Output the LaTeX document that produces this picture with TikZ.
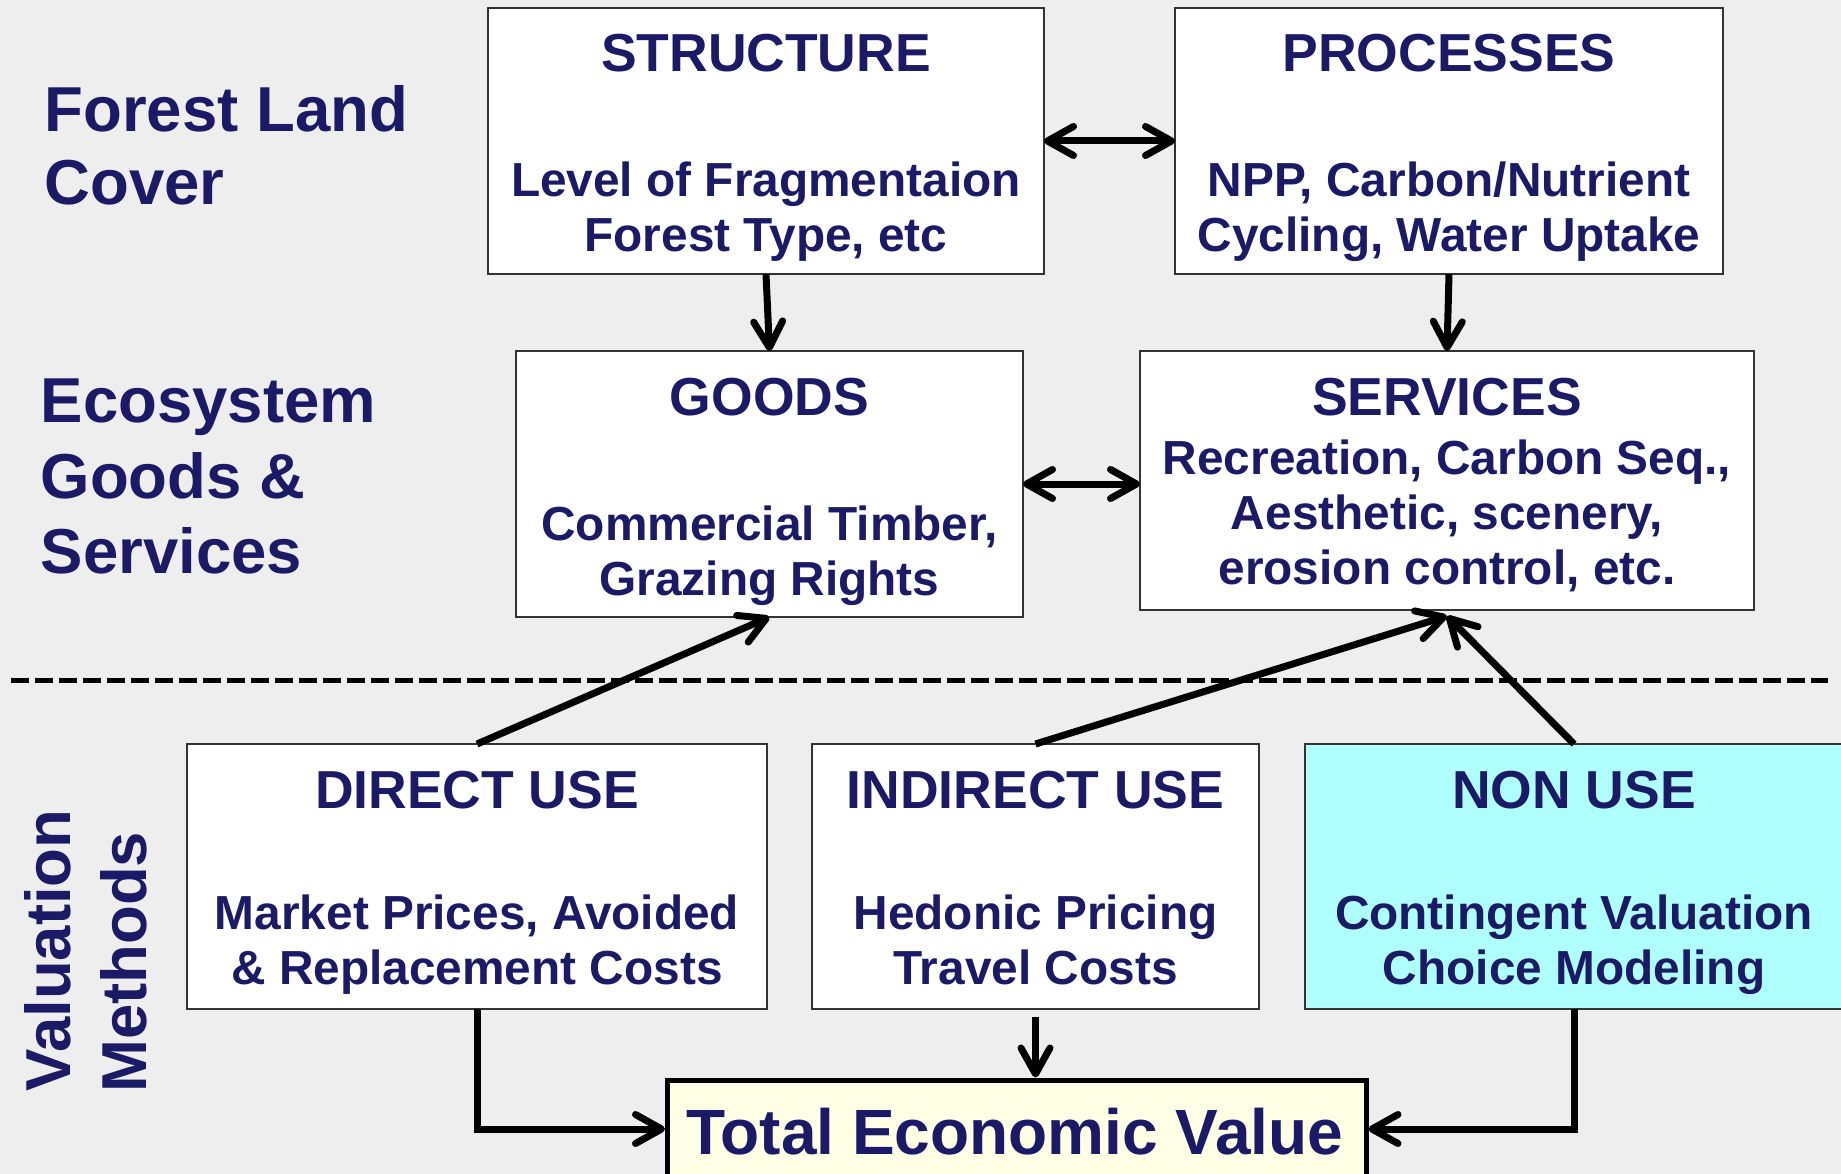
\documentclass[tikz,border=0pt]{standalone}
\usepackage{fontspec}
\setmainfont{Liberation Sans}
\usetikzlibrary{arrows.meta,calc}

\definecolor{navy}{RGB}{26,26,102}
\definecolor{bg}{RGB}{238,238,238}
\definecolor{edge}{RGB}{51,51,51}
\definecolor{cyanfill}{RGB}{175,255,255}
\definecolor{tevfill}{RGB}{255,255,230}

\newcommand{\boxtext}[4]{%
    \node[ttl] (#1T) at ([yshift=-64pt]#1.north) {#2};
    \foreach \s [count=\i] in {#4}
        \node[txt] (#1L\i) at ([yshift=-#3pt-(\i-1)*55pt]#1.north) {\s};
}

\begin{document}
\begin{tikzpicture}[x=1pt, y=-1pt,
        >={Straight Barb[length=26pt,width=29pt,round]},
        box/.style={draw=edge, line width=2pt, fill=white, inner sep=0pt, outer sep=0pt},
        ttl/.style={anchor=base, text=navy, inner sep=0pt,
            font=\bfseries\fontsize{53.5}{64}\selectfont},
        txt/.style={anchor=base, text=navy, inner sep=0pt,
            font=\bfseries\fontsize{47.8}{55}\selectfont},
        side/.style={anchor=base west, text=navy, inner sep=0pt,
            font=\bfseries\fontsize{63.5}{74}\selectfont},
        link/.style={line width=7pt},
        divider/.style={line width=5.7pt, dash pattern=on 18pt off 6pt}]

            \fill[bg] (0,0) rectangle (1841,1174);
            \useasboundingbox (0,0) rectangle (1841,1174);
            \clip (0,0) rectangle (1841,1174);

            \foreach \s [count=\i] in {Forest Land, Cover}
                \node[side] (forest\i) at (44.5,{131.3+(\i-1)*73.4}) {\s};
            \foreach \s [count=\i] in {Ecosystem, Goods \&, Services}
                \node[side] (eco\i) at (40.5,{422.9+(\i-1)*75.5}) {\s};
            \node[side, rotate=90] (valu) at (70,1092) {Valuation};
            \node[side, rotate=90] (meth) at (146,1093) {Methods};

            \draw[divider] (11,680.5) -- (1828,680.5);

            \node[box, minimum width=556pt, minimum height=266pt] (struct) at (766,141) {};
            \node[box, minimum width=548pt, minimum height=266pt] (proc) at (1449,141) {};
            \node[box, minimum width=507pt, minimum height=266pt] (goods) at (769.5,484) {};
            \node[box, minimum width=614pt, minimum height=259pt] (serv) at (1447,480.5) {};
            \node[box, minimum width=580pt, minimum height=265pt] (direct) at (477,876.5) {};
            \node[box, minimum width=447pt, minimum height=265pt] (indirect) at (1035.5,876.5) {};
            \node[box, fill=cyanfill, minimum width=538pt, minimum height=265pt] (nonuse) at (1574,876.5) {};
            \node[box, draw=black, line width=5pt, fill=tevfill,
                minimum width=698.5pt, minimum height=98pt] (tev) at (1016.75,1129) {};

            \boxtext{struct}{STRUCTURE}{188.3}{Level of Fragmentaion, {Forest Type, etc}}
            \boxtext{proc}{PROCESSES}{188.3}{{NPP, Carbon/Nutrient}, {Cycling, Water Uptake}}
            \boxtext{goods}{GOODS}{189}{{Commercial Timber,}, Grazing Rights}
            \boxtext{serv}{SERVICES}{123}{{Recreation, Carbon Seq.,}, {Aesthetic, scenery,}, {erosion control, etc.}}
            \boxtext{direct}{DIRECT USE}{185.5}{{Market Prices, Avoided}, \& Replacement Costs}
            \boxtext{indirect}{INDIRECT USE}{185.5}{Hedonic Pricing, Travel Costs}
            \boxtext{nonuse}{NON USE}{185.5}{Contingent Valuation, Choice Modeling}
            \node[anchor=base, text=navy, inner sep=0pt, font=\bfseries\fontsize{64}{74}\selectfont]
                (tevL) at ([xshift=-2pt,yshift=-74pt]tev.north) {Total Economic Value};

            \draw[link, <->] (struct.east) -- (proc.west);
            \draw[link, <->] (goods.east) -- (goods.east -| serv.west);
            \draw[link, ->] (struct.south) -- (goods.north);
            \draw[link, ->] (proc.south) -- (serv.north);
            \draw[link, ->] (direct.north) -- (goods.south);
            \draw[link, ->] (indirect.north) -- ([yshift=-6pt]serv.south);
            \draw[link, ->] (nonuse.north) -- ([yshift=-6pt]serv.south);
            \draw[link, ->, shorten >=2.5pt] ([yshift=-8pt]indirect.south) -- (indirect.south |- tev.north);
            \draw[link, ->, shorten >=2.5pt] (direct.south) |- (tev.west);
            \draw[link, ->, shorten >=2.5pt] (nonuse.south) |- (tev.east);
\end{tikzpicture}
\end{document}
